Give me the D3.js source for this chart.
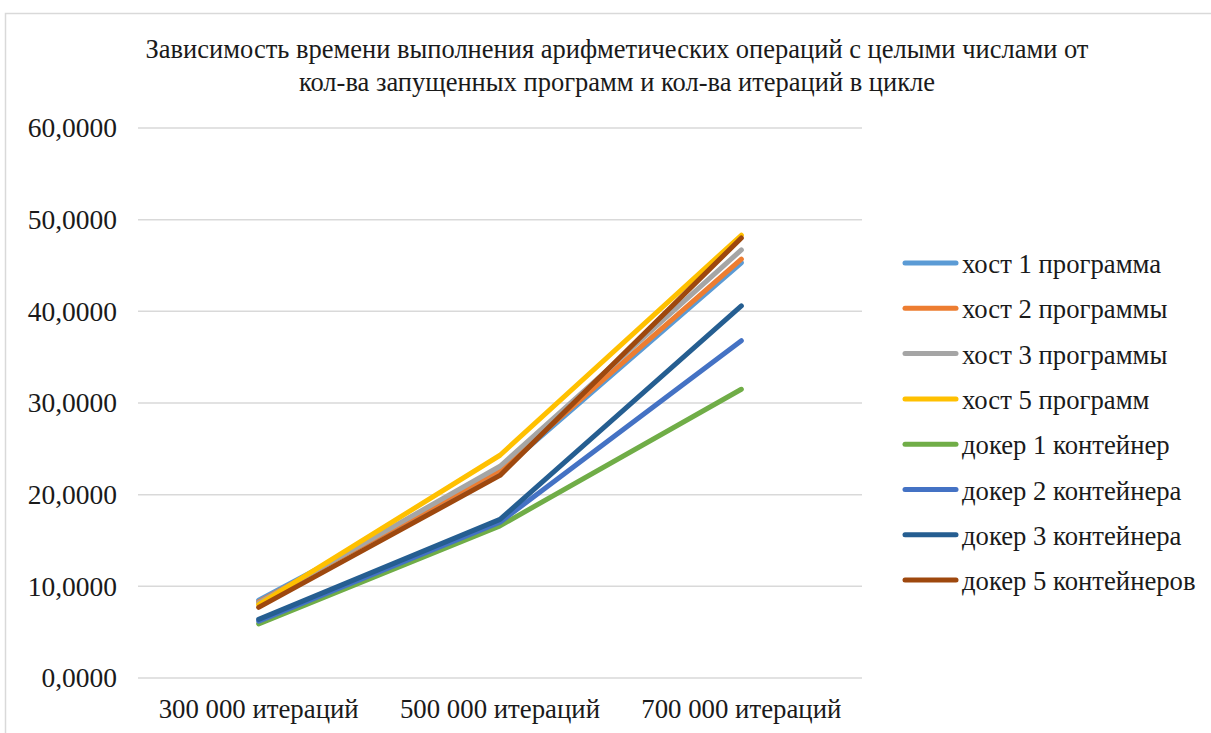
<!DOCTYPE html>
<html>
<head>
<meta charset="utf-8">
<script src="https://cdn.jsdelivr.net/npm/d3@7"></script>
<style>
  body { margin: 0; background: #fff; }
  svg { display: block; }
  svg text { font-family: "Liberation Serif", "DejaVu Serif", "Noto Serif", serif; fill: #1a1a1a; }
</style>
</head>
<body>
<svg width="1211" height="733"></svg>
<script>
const WIDTH = 1211;
const HEIGHT = 733;

const categories = ['300 000 итераций', '500 000 итераций', '700 000 итераций'];
const seriesNames = [
  'хост 1 программа', 'хост 2 программы', 'хост 3 программы', 'хост 5 программ',
  'докер 1 контейнер', 'докер 2 контейнера', 'докер 3 контейнера', 'докер 5 контейнеров'
];
const host1 = [8.5, 22.5, 45.3];
const host2 = [8.3, 22.7, 45.7];
const host3 = [8.2, 23.1, 46.7];
const host5 = [8.0, 24.3, 48.3];
const docker1 = [5.9, 16.6, 31.5];
const docker2 = [6.2, 17.0, 36.8];
const docker3 = [6.4, 17.3, 40.6];
const docker5 = [7.7, 22.1, 48.0];
const yTicks = [0, 10, 20, 30, 40, 50, 60];
const titleLines = [
  'Зависимость времени выполнения арифметических операций с целыми числами от',
  'кол-ва запущенных программ и кол-ва итераций в цикле'
];
const colors = ['#5B9BD5', '#ED7D31', '#A5A5A5', '#FFC000', '#70AD47', '#4472C4', '#255E91', '#9E480E'];

const seriesValues = [host1, host2, host3, host5, docker1, docker2, docker3, docker5];
const series = seriesNames.map((name, i) => ({ name, values: seriesValues[i], color: colors[i] }));

const svg = d3.select('svg');

// chart border
svg.append('rect')
  .attr('x', 5.5).attr('y', 13.5)
  .attr('width', WIDTH).attr('height', HEIGHT)
  .attr('fill', 'none').attr('stroke', '#d9d9d9').attr('stroke-width', 1.5);

// title
svg.append('g')
  .selectAll('text')
  .data(titleLines)
  .enter()
  .append('text')
  .attr('x', 617)
  .attr('y', (d, i) => 58 + i * 33)
  .attr('text-anchor', 'middle')
  .attr('font-size', 26.5)
  .text(d => d);

const plotLeft = 138, plotRight = 862, plotTop = 128, plotBottom = 678;

const x = d3.scaleBand().domain(categories).range([plotLeft, plotRight]);
const y = d3.scaleLinear().domain([0, 60]).range([plotBottom, plotTop]);

// grid
svg.append('g')
  .selectAll('line')
  .data(yTicks)
  .enter()
  .append('line')
  .attr('x1', plotLeft).attr('x2', plotRight)
  .attr('y1', d => y(d)).attr('y2', d => y(d))
  .attr('stroke', '#d9d9d9').attr('stroke-width', 1.5);

// y axis labels
const leftAxis = d3.axisLeft(y).tickValues(yTicks)
  .tickSize(0).tickPadding(21)
  .tickFormat(d => d3.format('.4f')(d).replace('.', ','));
const yAxis = svg.append('g')
  .attr('transform', `translate(${plotLeft}, 0)`)
  .call(leftAxis);
yAxis.select('.domain').remove();
yAxis.selectAll('text').attr('font-size', 27.5);

// x axis labels
const bottomAxis = d3.axisBottom(x).tickSize(0).tickPadding(21);
const xAxis = svg.append('g')
  .attr('transform', `translate(0, ${plotBottom})`)
  .call(bottomAxis);
xAxis.select('.domain').remove();
xAxis.selectAll('text').attr('font-size', 26.8);

// lines
const line = d3.line()
  .x((d, i) => x(categories[i]) + x.bandwidth() / 2)
  .y(d => y(d));

svg.append('g')
  .selectAll('path')
  .data(series)
  .enter()
  .append('path')
  .attr('d', d => line(d.values))
  .attr('fill', 'none')
  .attr('stroke', d => d.color)
  .attr('stroke-width', 5)
  .attr('stroke-linecap', 'round')
  .attr('stroke-linejoin', 'round');

// legend
const legend = svg.append('g')
  .selectAll('g')
  .data(series)
  .enter()
  .append('g')
  .attr('transform', (d, i) => `translate(905, ${263 + i * 45.3})`);
legend.append('line')
  .attr('x1', 0).attr('x2', 51)
  .attr('stroke', d => d.color)
  .attr('stroke-width', 5)
  .attr('stroke-linecap', 'round');
legend.append('text')
  .attr('x', 57).attr('y', 10)
  .attr('font-size', 26.7)
  .text(d => d.name);
</script>
</body>
</html>
